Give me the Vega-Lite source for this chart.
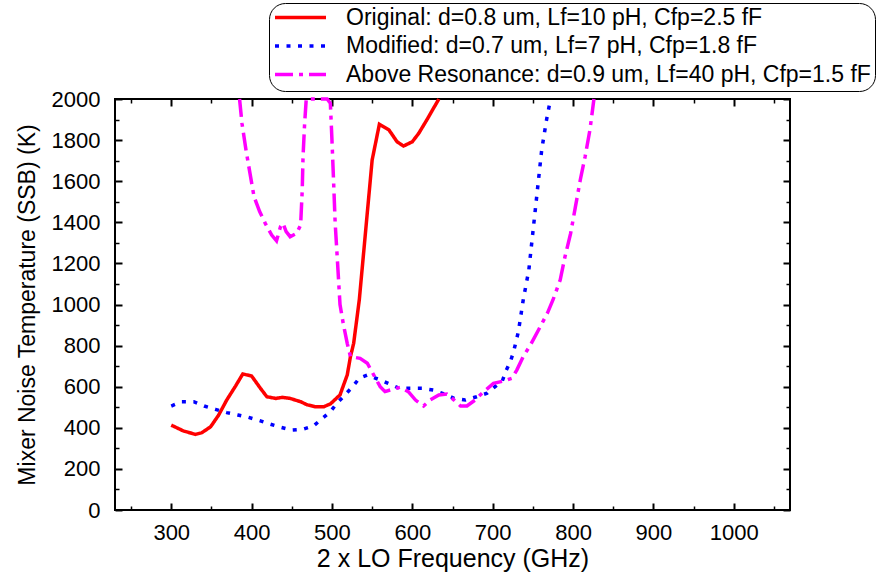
{
  "$schema": "https://vega.github.io/schema/vega-lite/v6.json",
  "autosize": {"type": "none"},
  "width": 675,
  "height": 411,
  "padding": {"left": 115, "top": 99, "right": 90, "bottom": 67},
  "config": {
    "font": "Liberation Sans",
    "view": {"stroke": "black", "strokeWidth": 2},
    "axis": {"grid": false, "domain": false, "tickColor": "black", "labelColor": "black", "titleColor": "black", "titleFontWeight": "normal", "format": "d"}
  },
  "datasets": {
    "curves": [
      {"series": "Original: d=0.8 um, Lf=10 pH, Cfp=2.5 fF", "freq": 300, "temp": 413},
      {"series": "Original: d=0.8 um, Lf=10 pH, Cfp=2.5 fF", "freq": 315, "temp": 385},
      {"series": "Original: d=0.8 um, Lf=10 pH, Cfp=2.5 fF", "freq": 330, "temp": 368},
      {"series": "Original: d=0.8 um, Lf=10 pH, Cfp=2.5 fF", "freq": 338, "temp": 376},
      {"series": "Original: d=0.8 um, Lf=10 pH, Cfp=2.5 fF", "freq": 349, "temp": 405},
      {"series": "Original: d=0.8 um, Lf=10 pH, Cfp=2.5 fF", "freq": 359, "temp": 462},
      {"series": "Original: d=0.8 um, Lf=10 pH, Cfp=2.5 fF", "freq": 369, "temp": 535},
      {"series": "Original: d=0.8 um, Lf=10 pH, Cfp=2.5 fF", "freq": 380, "temp": 603},
      {"series": "Original: d=0.8 um, Lf=10 pH, Cfp=2.5 fF", "freq": 389, "temp": 662},
      {"series": "Original: d=0.8 um, Lf=10 pH, Cfp=2.5 fF", "freq": 400, "temp": 652},
      {"series": "Original: d=0.8 um, Lf=10 pH, Cfp=2.5 fF", "freq": 411, "temp": 592},
      {"series": "Original: d=0.8 um, Lf=10 pH, Cfp=2.5 fF", "freq": 419, "temp": 551},
      {"series": "Original: d=0.8 um, Lf=10 pH, Cfp=2.5 fF", "freq": 430, "temp": 543},
      {"series": "Original: d=0.8 um, Lf=10 pH, Cfp=2.5 fF", "freq": 438, "temp": 548},
      {"series": "Original: d=0.8 um, Lf=10 pH, Cfp=2.5 fF", "freq": 448, "temp": 543},
      {"series": "Original: d=0.8 um, Lf=10 pH, Cfp=2.5 fF", "freq": 461, "temp": 527},
      {"series": "Original: d=0.8 um, Lf=10 pH, Cfp=2.5 fF", "freq": 469, "temp": 512},
      {"series": "Original: d=0.8 um, Lf=10 pH, Cfp=2.5 fF", "freq": 479, "temp": 503},
      {"series": "Original: d=0.8 um, Lf=10 pH, Cfp=2.5 fF", "freq": 490, "temp": 503},
      {"series": "Original: d=0.8 um, Lf=10 pH, Cfp=2.5 fF", "freq": 498, "temp": 516},
      {"series": "Original: d=0.8 um, Lf=10 pH, Cfp=2.5 fF", "freq": 510, "temp": 560},
      {"series": "Original: d=0.8 um, Lf=10 pH, Cfp=2.5 fF", "freq": 519, "temp": 657},
      {"series": "Original: d=0.8 um, Lf=10 pH, Cfp=2.5 fF", "freq": 523, "temp": 746},
      {"series": "Original: d=0.8 um, Lf=10 pH, Cfp=2.5 fF", "freq": 527, "temp": 811},
      {"series": "Original: d=0.8 um, Lf=10 pH, Cfp=2.5 fF", "freq": 534, "temp": 1022},
      {"series": "Original: d=0.8 um, Lf=10 pH, Cfp=2.5 fF", "freq": 550, "temp": 1703},
      {"series": "Original: d=0.8 um, Lf=10 pH, Cfp=2.5 fF", "freq": 559, "temp": 1877},
      {"series": "Original: d=0.8 um, Lf=10 pH, Cfp=2.5 fF", "freq": 571, "temp": 1849},
      {"series": "Original: d=0.8 um, Lf=10 pH, Cfp=2.5 fF", "freq": 581, "temp": 1792},
      {"series": "Original: d=0.8 um, Lf=10 pH, Cfp=2.5 fF", "freq": 589, "temp": 1771},
      {"series": "Original: d=0.8 um, Lf=10 pH, Cfp=2.5 fF", "freq": 600, "temp": 1792},
      {"series": "Original: d=0.8 um, Lf=10 pH, Cfp=2.5 fF", "freq": 608, "temp": 1833},
      {"series": "Original: d=0.8 um, Lf=10 pH, Cfp=2.5 fF", "freq": 618, "temp": 1898},
      {"series": "Original: d=0.8 um, Lf=10 pH, Cfp=2.5 fF", "freq": 633, "temp": 2000},

      {"series": "Modified: d=0.7 um, Lf=7 pH, Cfp=1.8 fF", "freq": 300, "temp": 506},
      {"series": "Modified: d=0.7 um, Lf=7 pH, Cfp=1.8 fF", "freq": 313, "temp": 527},
      {"series": "Modified: d=0.7 um, Lf=7 pH, Cfp=1.8 fF", "freq": 328, "temp": 527},
      {"series": "Modified: d=0.7 um, Lf=7 pH, Cfp=1.8 fF", "freq": 341, "temp": 506},
      {"series": "Modified: d=0.7 um, Lf=7 pH, Cfp=1.8 fF", "freq": 355, "temp": 490},
      {"series": "Modified: d=0.7 um, Lf=7 pH, Cfp=1.8 fF", "freq": 369, "temp": 474},
      {"series": "Modified: d=0.7 um, Lf=7 pH, Cfp=1.8 fF", "freq": 383, "temp": 462},
      {"series": "Modified: d=0.7 um, Lf=7 pH, Cfp=1.8 fF", "freq": 396, "temp": 451},
      {"series": "Modified: d=0.7 um, Lf=7 pH, Cfp=1.8 fF", "freq": 410, "temp": 435},
      {"series": "Modified: d=0.7 um, Lf=7 pH, Cfp=1.8 fF", "freq": 423, "temp": 418},
      {"series": "Modified: d=0.7 um, Lf=7 pH, Cfp=1.8 fF", "freq": 437, "temp": 402},
      {"series": "Modified: d=0.7 um, Lf=7 pH, Cfp=1.8 fF", "freq": 450, "temp": 389},
      {"series": "Modified: d=0.7 um, Lf=7 pH, Cfp=1.8 fF", "freq": 464, "temp": 393},
      {"series": "Modified: d=0.7 um, Lf=7 pH, Cfp=1.8 fF", "freq": 477, "temp": 409},
      {"series": "Modified: d=0.7 um, Lf=7 pH, Cfp=1.8 fF", "freq": 488, "temp": 446},
      {"series": "Modified: d=0.7 um, Lf=7 pH, Cfp=1.8 fF", "freq": 498, "temp": 478},
      {"series": "Modified: d=0.7 um, Lf=7 pH, Cfp=1.8 fF", "freq": 506, "temp": 519},
      {"series": "Modified: d=0.7 um, Lf=7 pH, Cfp=1.8 fF", "freq": 515, "temp": 555},
      {"series": "Modified: d=0.7 um, Lf=7 pH, Cfp=1.8 fF", "freq": 525, "temp": 597},
      {"series": "Modified: d=0.7 um, Lf=7 pH, Cfp=1.8 fF", "freq": 534, "temp": 641},
      {"series": "Modified: d=0.7 um, Lf=7 pH, Cfp=1.8 fF", "freq": 544, "temp": 657},
      {"series": "Modified: d=0.7 um, Lf=7 pH, Cfp=1.8 fF", "freq": 558, "temp": 636},
      {"series": "Modified: d=0.7 um, Lf=7 pH, Cfp=1.8 fF", "freq": 570, "temp": 616},
      {"series": "Modified: d=0.7 um, Lf=7 pH, Cfp=1.8 fF", "freq": 584, "temp": 592},
      {"series": "Modified: d=0.7 um, Lf=7 pH, Cfp=1.8 fF", "freq": 598, "temp": 592},
      {"series": "Modified: d=0.7 um, Lf=7 pH, Cfp=1.8 fF", "freq": 612, "temp": 592},
      {"series": "Modified: d=0.7 um, Lf=7 pH, Cfp=1.8 fF", "freq": 626, "temp": 584},
      {"series": "Modified: d=0.7 um, Lf=7 pH, Cfp=1.8 fF", "freq": 640, "temp": 564},
      {"series": "Modified: d=0.7 um, Lf=7 pH, Cfp=1.8 fF", "freq": 652, "temp": 543},
      {"series": "Modified: d=0.7 um, Lf=7 pH, Cfp=1.8 fF", "freq": 666, "temp": 535},
      {"series": "Modified: d=0.7 um, Lf=7 pH, Cfp=1.8 fF", "freq": 680, "temp": 551},
      {"series": "Modified: d=0.7 um, Lf=7 pH, Cfp=1.8 fF", "freq": 693, "temp": 568},
      {"series": "Modified: d=0.7 um, Lf=7 pH, Cfp=1.8 fF", "freq": 703, "temp": 600},
      {"series": "Modified: d=0.7 um, Lf=7 pH, Cfp=1.8 fF", "freq": 712, "temp": 628},
      {"series": "Modified: d=0.7 um, Lf=7 pH, Cfp=1.8 fF", "freq": 717, "temp": 681},
      {"series": "Modified: d=0.7 um, Lf=7 pH, Cfp=1.8 fF", "freq": 722, "temp": 722},
      {"series": "Modified: d=0.7 um, Lf=7 pH, Cfp=1.8 fF", "freq": 726, "temp": 770},
      {"series": "Modified: d=0.7 um, Lf=7 pH, Cfp=1.8 fF", "freq": 732, "temp": 868},
      {"series": "Modified: d=0.7 um, Lf=7 pH, Cfp=1.8 fF", "freq": 738, "temp": 1022},
      {"series": "Modified: d=0.7 um, Lf=7 pH, Cfp=1.8 fF", "freq": 745, "temp": 1168},
      {"series": "Modified: d=0.7 um, Lf=7 pH, Cfp=1.8 fF", "freq": 749, "temp": 1314},
      {"series": "Modified: d=0.7 um, Lf=7 pH, Cfp=1.8 fF", "freq": 753, "temp": 1460},
      {"series": "Modified: d=0.7 um, Lf=7 pH, Cfp=1.8 fF", "freq": 757, "temp": 1606},
      {"series": "Modified: d=0.7 um, Lf=7 pH, Cfp=1.8 fF", "freq": 761, "temp": 1752},
      {"series": "Modified: d=0.7 um, Lf=7 pH, Cfp=1.8 fF", "freq": 767, "temp": 1898},
      {"series": "Modified: d=0.7 um, Lf=7 pH, Cfp=1.8 fF", "freq": 772, "temp": 2000},

      {"series": "Above Resonance: d=0.9 um, Lf=40 pH, Cfp=1.5 fF", "freq": 385, "temp": 2000},
      {"series": "Above Resonance: d=0.9 um, Lf=40 pH, Cfp=1.5 fF", "freq": 388, "temp": 1882},
      {"series": "Above Resonance: d=0.9 um, Lf=40 pH, Cfp=1.5 fF", "freq": 393, "temp": 1752},
      {"series": "Above Resonance: d=0.9 um, Lf=40 pH, Cfp=1.5 fF", "freq": 398, "temp": 1638},
      {"series": "Above Resonance: d=0.9 um, Lf=40 pH, Cfp=1.5 fF", "freq": 403, "temp": 1525},
      {"series": "Above Resonance: d=0.9 um, Lf=40 pH, Cfp=1.5 fF", "freq": 410, "temp": 1452},
      {"series": "Above Resonance: d=0.9 um, Lf=40 pH, Cfp=1.5 fF", "freq": 417, "temp": 1395},
      {"series": "Above Resonance: d=0.9 um, Lf=40 pH, Cfp=1.5 fF", "freq": 425, "temp": 1338},
      {"series": "Above Resonance: d=0.9 um, Lf=40 pH, Cfp=1.5 fF", "freq": 431, "temp": 1310},
      {"series": "Above Resonance: d=0.9 um, Lf=40 pH, Cfp=1.5 fF", "freq": 436, "temp": 1379},
      {"series": "Above Resonance: d=0.9 um, Lf=40 pH, Cfp=1.5 fF", "freq": 439, "temp": 1395},
      {"series": "Above Resonance: d=0.9 um, Lf=40 pH, Cfp=1.5 fF", "freq": 443, "temp": 1355},
      {"series": "Above Resonance: d=0.9 um, Lf=40 pH, Cfp=1.5 fF", "freq": 448, "temp": 1330},
      {"series": "Above Resonance: d=0.9 um, Lf=40 pH, Cfp=1.5 fF", "freq": 456, "temp": 1346},
      {"series": "Above Resonance: d=0.9 um, Lf=40 pH, Cfp=1.5 fF", "freq": 461, "temp": 1387},
      {"series": "Above Resonance: d=0.9 um, Lf=40 pH, Cfp=1.5 fF", "freq": 463, "temp": 1557},
      {"series": "Above Resonance: d=0.9 um, Lf=40 pH, Cfp=1.5 fF", "freq": 464, "temp": 1719},
      {"series": "Above Resonance: d=0.9 um, Lf=40 pH, Cfp=1.5 fF", "freq": 466, "temp": 1882},
      {"series": "Above Resonance: d=0.9 um, Lf=40 pH, Cfp=1.5 fF", "freq": 468, "temp": 2000},
      {"series": "Above Resonance: d=0.9 um, Lf=40 pH, Cfp=1.5 fF", "freq": 494, "temp": 2000},
      {"series": "Above Resonance: d=0.9 um, Lf=40 pH, Cfp=1.5 fF", "freq": 498, "temp": 1979},
      {"series": "Above Resonance: d=0.9 um, Lf=40 pH, Cfp=1.5 fF", "freq": 500, "temp": 1800},
      {"series": "Above Resonance: d=0.9 um, Lf=40 pH, Cfp=1.5 fF", "freq": 502, "temp": 1600},
      {"series": "Above Resonance: d=0.9 um, Lf=40 pH, Cfp=1.5 fF", "freq": 504, "temp": 1395},
      {"series": "Above Resonance: d=0.9 um, Lf=40 pH, Cfp=1.5 fF", "freq": 507, "temp": 1200},
      {"series": "Above Resonance: d=0.9 um, Lf=40 pH, Cfp=1.5 fF", "freq": 510, "temp": 1000},
      {"series": "Above Resonance: d=0.9 um, Lf=40 pH, Cfp=1.5 fF", "freq": 514, "temp": 908},
      {"series": "Above Resonance: d=0.9 um, Lf=40 pH, Cfp=1.5 fF", "freq": 519, "temp": 811},
      {"series": "Above Resonance: d=0.9 um, Lf=40 pH, Cfp=1.5 fF", "freq": 523, "temp": 746},
      {"series": "Above Resonance: d=0.9 um, Lf=40 pH, Cfp=1.5 fF", "freq": 535, "temp": 738},
      {"series": "Above Resonance: d=0.9 um, Lf=40 pH, Cfp=1.5 fF", "freq": 544, "temp": 714},
      {"series": "Above Resonance: d=0.9 um, Lf=40 pH, Cfp=1.5 fF", "freq": 552, "temp": 657},
      {"series": "Above Resonance: d=0.9 um, Lf=40 pH, Cfp=1.5 fF", "freq": 560, "temp": 600},
      {"series": "Above Resonance: d=0.9 um, Lf=40 pH, Cfp=1.5 fF", "freq": 566, "temp": 576},
      {"series": "Above Resonance: d=0.9 um, Lf=40 pH, Cfp=1.5 fF", "freq": 575, "temp": 587},
      {"series": "Above Resonance: d=0.9 um, Lf=40 pH, Cfp=1.5 fF", "freq": 585, "temp": 597},
      {"series": "Above Resonance: d=0.9 um, Lf=40 pH, Cfp=1.5 fF", "freq": 595, "temp": 576},
      {"series": "Above Resonance: d=0.9 um, Lf=40 pH, Cfp=1.5 fF", "freq": 604, "temp": 535},
      {"series": "Above Resonance: d=0.9 um, Lf=40 pH, Cfp=1.5 fF", "freq": 614, "temp": 506},
      {"series": "Above Resonance: d=0.9 um, Lf=40 pH, Cfp=1.5 fF", "freq": 622, "temp": 535},
      {"series": "Above Resonance: d=0.9 um, Lf=40 pH, Cfp=1.5 fF", "freq": 633, "temp": 560},
      {"series": "Above Resonance: d=0.9 um, Lf=40 pH, Cfp=1.5 fF", "freq": 643, "temp": 564},
      {"series": "Above Resonance: d=0.9 um, Lf=40 pH, Cfp=1.5 fF", "freq": 652, "temp": 535},
      {"series": "Above Resonance: d=0.9 um, Lf=40 pH, Cfp=1.5 fF", "freq": 660, "temp": 506},
      {"series": "Above Resonance: d=0.9 um, Lf=40 pH, Cfp=1.5 fF", "freq": 668, "temp": 506},
      {"series": "Above Resonance: d=0.9 um, Lf=40 pH, Cfp=1.5 fF", "freq": 678, "temp": 535},
      {"series": "Above Resonance: d=0.9 um, Lf=40 pH, Cfp=1.5 fF", "freq": 689, "temp": 576},
      {"series": "Above Resonance: d=0.9 um, Lf=40 pH, Cfp=1.5 fF", "freq": 701, "temp": 616},
      {"series": "Above Resonance: d=0.9 um, Lf=40 pH, Cfp=1.5 fF", "freq": 714, "temp": 628},
      {"series": "Above Resonance: d=0.9 um, Lf=40 pH, Cfp=1.5 fF", "freq": 724, "temp": 641},
      {"series": "Above Resonance: d=0.9 um, Lf=40 pH, Cfp=1.5 fF", "freq": 730, "temp": 681},
      {"series": "Above Resonance: d=0.9 um, Lf=40 pH, Cfp=1.5 fF", "freq": 738, "temp": 746},
      {"series": "Above Resonance: d=0.9 um, Lf=40 pH, Cfp=1.5 fF", "freq": 747, "temp": 803},
      {"series": "Above Resonance: d=0.9 um, Lf=40 pH, Cfp=1.5 fF", "freq": 757, "temp": 876},
      {"series": "Above Resonance: d=0.9 um, Lf=40 pH, Cfp=1.5 fF", "freq": 768, "temp": 957},
      {"series": "Above Resonance: d=0.9 um, Lf=40 pH, Cfp=1.5 fF", "freq": 775, "temp": 1022},
      {"series": "Above Resonance: d=0.9 um, Lf=40 pH, Cfp=1.5 fF", "freq": 784, "temp": 1119},
      {"series": "Above Resonance: d=0.9 um, Lf=40 pH, Cfp=1.5 fF", "freq": 790, "temp": 1233},
      {"series": "Above Resonance: d=0.9 um, Lf=40 pH, Cfp=1.5 fF", "freq": 797, "temp": 1346},
      {"series": "Above Resonance: d=0.9 um, Lf=40 pH, Cfp=1.5 fF", "freq": 803, "temp": 1476},
      {"series": "Above Resonance: d=0.9 um, Lf=40 pH, Cfp=1.5 fF", "freq": 809, "temp": 1606},
      {"series": "Above Resonance: d=0.9 um, Lf=40 pH, Cfp=1.5 fF", "freq": 815, "temp": 1719},
      {"series": "Above Resonance: d=0.9 um, Lf=40 pH, Cfp=1.5 fF", "freq": 821, "temp": 1849},
      {"series": "Above Resonance: d=0.9 um, Lf=40 pH, Cfp=1.5 fF", "freq": 826, "temp": 2000}
    ]
  },
  "data": {"name": "curves"},
  "resolve": {"axis": {"x": "independent", "y": "independent"}},
  "layer": [
    {
      "mark": {"type": "line", "interpolate": "linear"},
      "encoding": {
        "x": {"field": "freq", "type": "quantitative", "scale": {"domain": [230, 1070], "nice": false, "zero": false},
          "axis": {"orient": "bottom", "values": [300, 400, 500, 600, 700, 800, 900, 1000], "format": "d", "tickSize": -7, "tickWidth": 2, "labelFontSize": 22, "labelPadding": 19, "title": "2 x LO Frequency (GHz)", "titleFontSize": 25, "titlePadding": 3}},
        "y": {"field": "temp", "type": "quantitative", "scale": {"domain": [0, 2000], "nice": false, "zero": false},
          "axis": {"orient": "left", "values": [0, 200, 400, 600, 800, 1000, 1200, 1400, 1600, 1800, 2000], "format": "d", "tickSize": -7, "tickWidth": 2, "labelFontSize": 22, "labelPadding": 22, "title": "Mixer Noise Temperature (SSB) (K)", "titleFontSize": 23, "titlePadding": 12}},
        "color": {"field": "series", "type": "nominal",
          "scale": {"domain": ["Original: d=0.8 um, Lf=10 pH, Cfp=2.5 fF", "Modified: d=0.7 um, Lf=7 pH, Cfp=1.8 fF", "Above Resonance: d=0.9 um, Lf=40 pH, Cfp=1.5 fF"], "range": ["#ff0000", "#0000ff", "#ff00ff"]},
          "legend": {"title": null, "orient": "none", "legendX": 154, "legendY": -96, "symbolType": "stroke", "symbolSize": 2601, "symbolStrokeWidth": 4, "labelFontSize": 23, "labelOffset": 18, "clipHeight": 21, "rowPadding": 4.5, "padding": 4, "strokeColor": "black", "fillColor": "white", "cornerRadius": 16, "labelLimit": 700}},
        "strokeDash": {"field": "series", "type": "nominal",
          "scale": {"domain": ["Original: d=0.8 um, Lf=10 pH, Cfp=2.5 fF", "Modified: d=0.7 um, Lf=7 pH, Cfp=1.8 fF", "Above Resonance: d=0.9 um, Lf=40 pH, Cfp=1.5 fF"], "range": [[1, 0], [4, 7.5], [18, 6, 4, 6]]},
          "legend": {"title": null, "orient": "none", "legendX": 154, "legendY": -96, "symbolType": "stroke", "symbolSize": 2601, "symbolStrokeWidth": 4, "labelFontSize": 23, "labelOffset": 18, "clipHeight": 21, "rowPadding": 4.5, "padding": 4, "strokeColor": "black", "fillColor": "white", "cornerRadius": 16, "labelLimit": 700}},
        "strokeWidth": {"field": "series", "type": "nominal",
          "scale": {"domain": ["Original: d=0.8 um, Lf=10 pH, Cfp=2.5 fF", "Modified: d=0.7 um, Lf=7 pH, Cfp=1.8 fF", "Above Resonance: d=0.9 um, Lf=40 pH, Cfp=1.5 fF"], "range": [3.5, 3.5, 4.5]},
          "legend": null}
      }
    },
    {
      "mark": {"type": "point", "opacity": 0},
      "encoding": {
        "x": {"field": "freq", "type": "quantitative", "scale": {"domain": [230, 1070], "nice": false, "zero": false},
          "axis": {"orient": "top", "values": [300, 400, 500, 600, 700, 800, 900, 1000], "tickSize": -7, "tickWidth": 2, "labels": false, "title": null}},
        "y": {"field": "temp", "type": "quantitative", "scale": {"domain": [0, 2000], "nice": false, "zero": false},
          "axis": {"orient": "right", "values": [0, 200, 400, 600, 800, 1000, 1200, 1400, 1600, 1800, 2000], "tickSize": -7, "tickWidth": 2, "labels": false, "title": null}}
      }
    },
    {
      "mark": {"type": "point", "opacity": 0},
      "encoding": {
        "x": {"field": "freq", "type": "quantitative", "scale": {"domain": [230, 1070], "nice": false, "zero": false},
          "axis": {"orient": "bottom", "values": [250, 350, 450, 550, 650, 750, 850, 950, 1050], "tickSize": -4, "tickWidth": 1.5, "labels": false, "title": null}},
        "y": {"field": "temp", "type": "quantitative", "scale": {"domain": [0, 2000], "nice": false, "zero": false},
          "axis": {"orient": "left", "values": [100, 300, 500, 700, 900, 1100, 1300, 1500, 1700, 1900], "tickSize": -4, "tickWidth": 1.5, "labels": false, "title": null}}
      }
    },
    {
      "mark": {"type": "point", "opacity": 0},
      "encoding": {
        "x": {"field": "freq", "type": "quantitative", "scale": {"domain": [230, 1070], "nice": false, "zero": false},
          "axis": {"orient": "top", "values": [250, 350, 450, 550, 650, 750, 850, 950, 1050], "tickSize": -4, "tickWidth": 1.5, "labels": false, "title": null}},
        "y": {"field": "temp", "type": "quantitative", "scale": {"domain": [0, 2000], "nice": false, "zero": false},
          "axis": {"orient": "right", "values": [100, 300, 500, 700, 900, 1100, 1300, 1500, 1700, 1900], "tickSize": -4, "tickWidth": 1.5, "labels": false, "title": null}}
      }
    }
  ]
}
